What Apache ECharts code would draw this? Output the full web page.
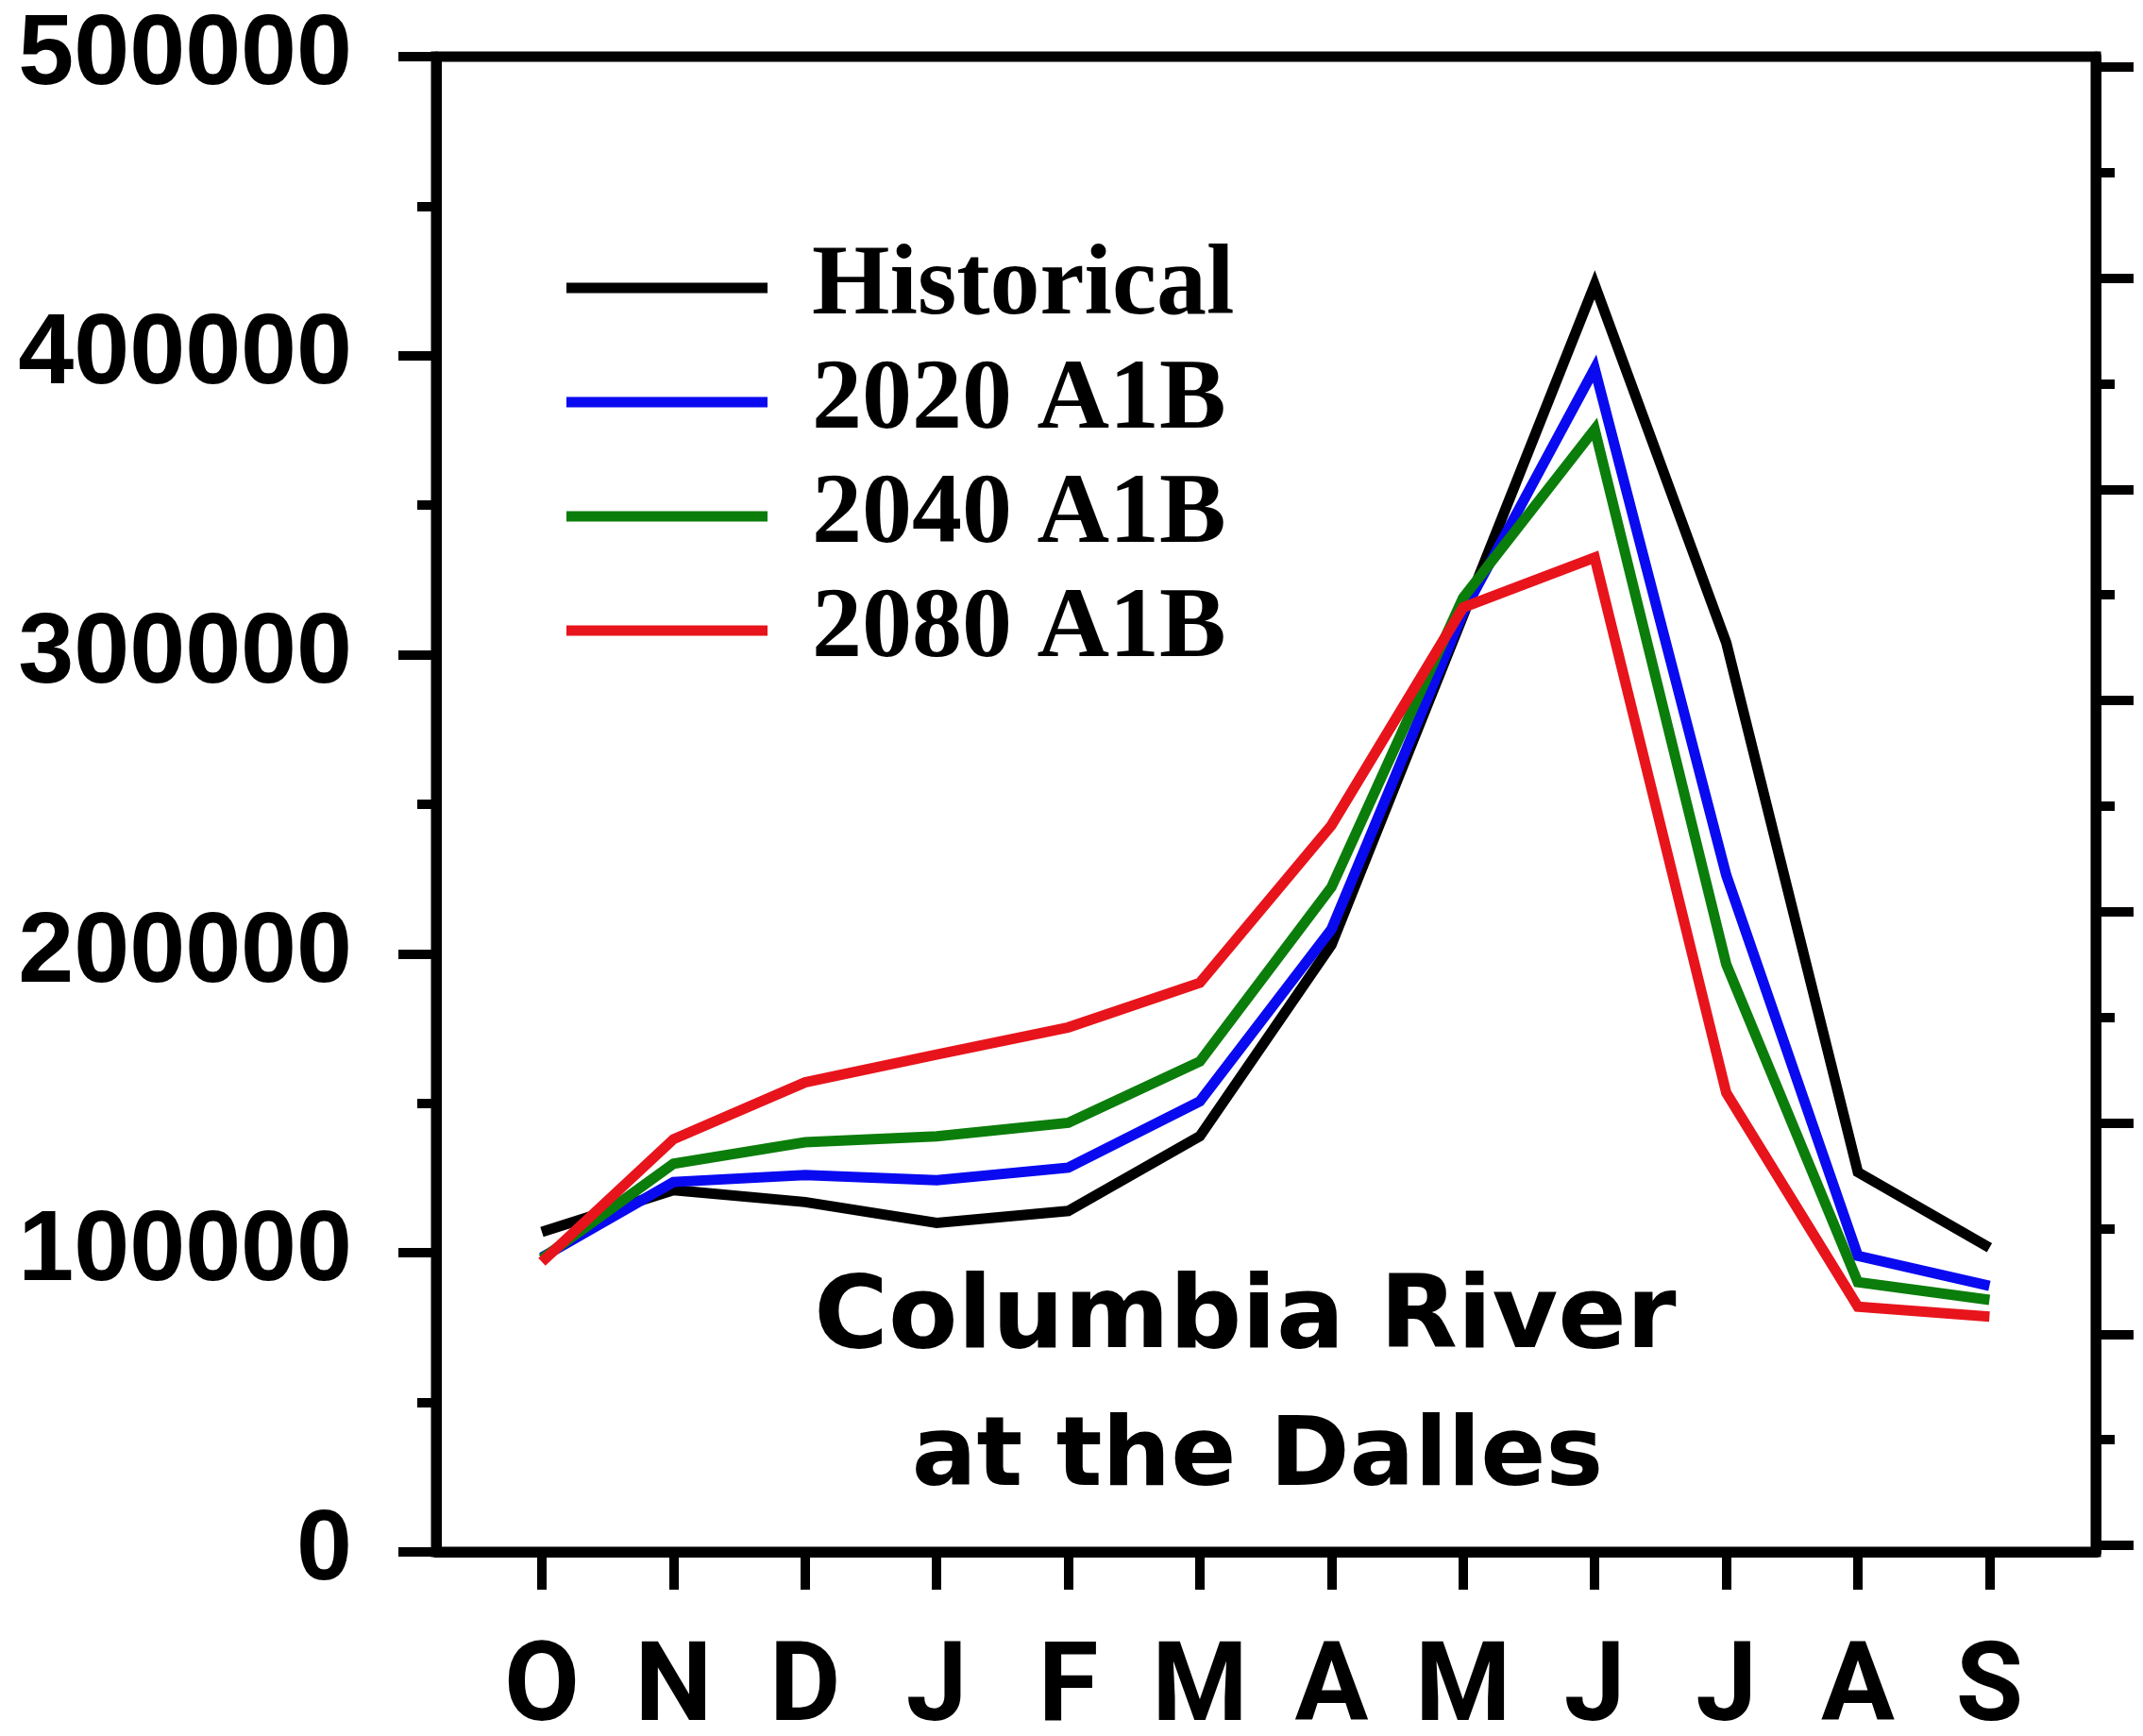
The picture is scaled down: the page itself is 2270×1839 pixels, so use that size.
<!DOCTYPE html>
<html>
<head>
<meta charset="utf-8">
<script src="https://cdn.jsdelivr.net/npm/echarts@6/dist/echarts.min.js"></script>
<style>
  html, body { margin: 0; padding: 0; background: #ffffff; }
  #chart { width: 2270px; height: 1839px; }
</style>
</head>
<body>
<div id="chart"></div>
<script>
// Water-year months, October through September
const months = ['O', 'N', 'D', 'J', 'F', 'M', 'A', 'M', 'J', 'J', 'A', 'S'];

// Mean monthly flow (cfs)
const historical = [107000, 121000, 117000, 110000, 114000, 139000, 203000, 313000, 423700, 304000, 127000, 101700];
const a1b2020    = [98500, 123700, 126000, 124300, 128500, 150700, 208200, 314000, 395700, 226300, 99000, 89000];
const a1b2040    = [98000, 129800, 137000, 139000, 143500, 164000, 222300, 319000, 375400, 196500, 90200, 84300];
const a1b2080    = [97000, 138000, 157000, 166300, 175400, 190300, 243000, 315800, 332500, 153500, 82000, 78700];

const seriesNames = ['Historical', '2020 A1B', '2040 A1B', '2080 A1B'];

// Left axis (cfs)
const flowMin = 0;
const flowMax = 500000;
const flowStep = 100000;

// Right axis: same range in m3/s, unlabeled ticks
const CFS_TO_CMS = 0.0283168;
const cmsShift = -62;
const cmsMajor = [0, 2000, 4000, 6000, 8000, 10000, 12000, 14000];
const cmsMinor = [1000, 3000, 5000, 7000, 9000, 11000, 13000];

const monthIdx = months.map((m, i) => i);
const toPairs = arr => arr.map((v, i) => [i, v]);

const colors = ['#000000', '#0a0af0', '#0b7d0b', '#e8141c'];
const values = [historical, a1b2020, a1b2040, a1b2080];

const AXIS_W = 11;
const TICK_W = 10;

const chart = echarts.init(document.getElementById('chart'), null, { renderer: 'canvas' });

chart.setOption({
  backgroundColor: '#ffffff',
  animation: false,
  title: [
    {
      text: 'Columbia River',
      left: 1319, top: 1346, padding: 0, textAlign: 'center',
      textStyle: { fontFamily: 'DejaVu Sans', fontWeight: 'bold', fontSize: 107, lineHeight: 107, color: '#000' }
    },
    {
      text: 'at the Dalles',
      left: 1332, top: 1495, padding: 0, textAlign: 'center',
      textStyle: { fontFamily: 'DejaVu Sans', fontWeight: 'bold', fontSize: 102, lineHeight: 102, color: '#000' }
    }
  ],
  legend: {
    orient: 'vertical',
    left: 600, top: 252, padding: 0,
    icon: 'rect',
    itemWidth: 213, itemHeight: 11, itemGap: 15,
    textStyle: {
      fontFamily: 'Liberation Serif', fontWeight: 'bold', fontSize: 106,
      color: '#000', padding: [0, 0, 0, 42]
    },
    data: seriesNames
  },
  grid: {
    left: 462, top: 60, width: 1758, height: 1584,
    outerBoundsMode: 'none',
    containLabel: false,
    show: true, borderColor: '#000', borderWidth: AXIS_W, backgroundColor: 'transparent'
  },
  xAxis: {
    type: 'value',
    min: -0.8034, max: 11.808,
    axisLine: { show: true, onZero: false, lineStyle: { color: '#000', width: AXIS_W } },
    axisTick: { show: true, customValues: monthIdx, length: 40, lineStyle: { color: '#000', width: TICK_W } },
    axisLabel: {
      customValues: monthIdx,
      formatter: v => months[Math.round(v)],
      fontFamily: 'Roboto, "Liberation Sans", sans-serif',
      fontWeight: 'bold', fontSize: 116, lineHeight: 116, color: '#000', margin: 91
    },
    splitLine: { show: false }
  },
  yAxis: [
    {
      type: 'value', position: 'left',
      min: flowMin, max: flowMax, interval: flowStep,
      axisLine: { show: true, onZero: false, lineStyle: { color: '#000', width: AXIS_W } },
      axisTick: { show: true, length: 40, lineStyle: { color: '#000', width: TICK_W } },
      minorTick: { show: true, splitNumber: 2, length: 20, lineStyle: { color: '#000', width: TICK_W } },
      axisLabel: {
        formatter: v => String(v),
        fontFamily: 'Liberation Sans', fontWeight: 'bold', fontSize: 106,
        color: '#000', margin: 89
      },
      splitLine: { show: false },
      minorSplitLine: { show: false }
    },
    {
      type: 'value', position: 'right', offset: 0,
      min: cmsShift, max: flowMax * CFS_TO_CMS + cmsShift,
      axisLine: { show: true, onZero: false, lineStyle: { color: '#000', width: AXIS_W } },
      axisTick: { show: true, customValues: cmsMajor, length: 40, lineStyle: { color: '#000', width: TICK_W } },
      axisLabel: { show: false },
      splitLine: { show: false }
    },
    {
      type: 'value', position: 'right', offset: 0,
      min: cmsShift, max: flowMax * CFS_TO_CMS + cmsShift,
      axisLine: { show: false, onZero: false },
      axisTick: { show: true, customValues: cmsMinor, length: 20, lineStyle: { color: '#000', width: TICK_W } },
      axisLabel: { show: false },
      splitLine: { show: false }
    }
  ],
  series: seriesNames.map((name, k) => ({
    name,
    type: 'line',
    xAxisIndex: 0,
    yAxisIndex: 0,
    data: toPairs(values[k]),
    symbol: 'none',
    showSymbol: false,
    smooth: false,
    color: colors[k],
    lineStyle: { color: colors[k], width: 11, join: 'miter' },
    z: 2 + k
  }))
});
</script>
</body>
</html>
